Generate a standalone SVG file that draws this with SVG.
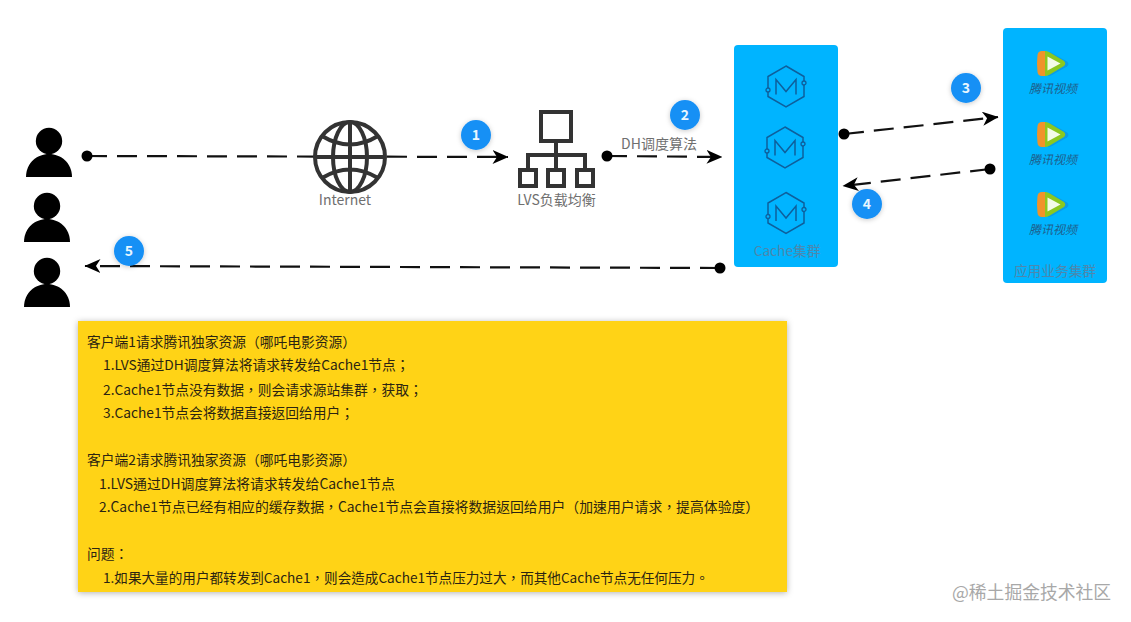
<svg xmlns="http://www.w3.org/2000/svg" width="1131" height="622" viewBox="0 0 1131 622">
<style>
text{font-family:"Noto Sans CJK SC","Noto Sans","Liberation Sans",sans-serif}
.flow{fill:none;stroke:#111;stroke-width:2.2;stroke-dasharray:20 10}
.dot{fill:#000}
.cluster{fill:#00b4ff}
.badge{fill:#1790f5;filter:url(#soft)}
.num{fill:#e8f6ff;font-size:14px;font-weight:700;text-anchor:middle}
.cap{fill:#6f6f6f;text-anchor:middle;font-size:14px}
.clabel{fill:#4d87ad;text-anchor:middle;font-size:13.700px}
.hex{fill:none;stroke:#0e5f9c;stroke-width:1.5}
.pin{fill:#00b4ff;stroke:#0e5f9c;stroke-width:1.300}
.tv{fill:#1f5f8c;font-size:12px;font-style:italic;text-anchor:middle}
.body{fill:#2b2412;font-size:13.750px;font-family:"Noto Sans CJK TC","Noto Sans CJK SC",sans-serif}
.ico{fill:none;stroke:#333;stroke-width:4}
</style>
<defs>
<filter id="soft" x="-30%" y="-30%" width="160%" height="160%"><feDropShadow dx="0" dy="1" stdDeviation="2.5" flood-color="#000" flood-opacity=".22"/></filter>
<filter id="card" x="-3%" y="-3%" width="106%" height="106%"><feDropShadow dx="0" dy="1" stdDeviation="3" flood-color="#000" flood-opacity=".3"/></filter>
<marker id="arrow" viewBox="0 0 16 14" refX="15.500" refY="7" markerWidth="16" markerHeight="14" markerUnits="userSpaceOnUse" orient="auto"><path d="M0 0L16 7L0 14L4.500 7z" fill="#000"/></marker>
<g id="person"><circle cx="0" cy="0" r="13.200"/><path d="M-23 36C-23 22 -12 13 0 13C12 13 23 22 23 36z"/></g>
<g id="mnode"><path class="hex" d="M0-20.500L18 -10V10L0 20.500L-18 10V-10z"/><circle class="pin" cx="-18" cy="3.500" r="2"/><circle class="pin" cx="18" cy="-3.500" r="2"/><path class="hex" d="M-10 8V-7L0 5L10 -7V8"/></g>
<g id="tvlogo"><path d="M11 1Q13 1 15 2L30 10.500Q33 13 30 15.500L15 24Q13 25 11 25z" fill="#0a9ce8"/><path d="M5 0Q1 0 .5 4Q-.5 12.500 .5 21Q1 25 5 25H9V0z" fill="#f0932b"/><path d="M8 0Q10 0 12 1L27 10Q29.500 12.500 27 15L12 24Q10 25 8 25z" fill="#8cc820"/><path d="M10.500 5.500L23.500 12.500L10.500 19.500z" fill="#f4fbe8"/></g>
</defs>
<rect width="1131" height="622" fill="#fff"/>
<g id="connectors">
<path class="flow" d="M87 156L508 157" marker-end="url(#arrow)"/>
<path class="flow" d="M607 156L722 157" marker-end="url(#arrow)"/>
<path class="flow" d="M844 134L998 117" marker-end="url(#arrow)"/>
<path class="flow" d="M990 169L843 186" marker-end="url(#arrow)"/>
<path class="flow" d="M720 268L85 266" marker-end="url(#arrow)"/>
<circle class="dot" cx="87" cy="156" r="5.500"/>
<circle class="dot" cx="607" cy="156" r="5.500"/>
<circle class="dot" cx="844" cy="134" r="5.500"/>
<circle class="dot" cx="990" cy="169" r="5.500"/>
<circle class="dot" cx="720" cy="268" r="5.500"/>
</g>
<g id="user1"><use href="#person" x="49" y="141"/></g>
<g id="user2"><use href="#person" x="47" y="206"/></g>
<g id="user3"><use href="#person" x="47" y="271"/></g>
<g id="internet">
<circle cx="350" cy="157" r="35" fill="#fff" stroke="#333" stroke-width="4"/>
<ellipse cx="350" cy="157" rx="17" ry="35" class="ico"/>
<path class="ico" d="M350 122V192M315 157H385M322 136Q350 153 378 136M322 178Q350 161 378 178"/>
<text class="cap" x="345" y="205">Internet</text>
</g>
<g id="lvs">
<rect class="ico" x="541" y="112" width="30" height="29" stroke-width="4.500"/>
<path class="ico" d="M556 141V155M528 168V155H585V168M556 155V168"/>
<rect class="ico" x="520" y="170" width="16" height="16" stroke-width="4.500"/>
<rect class="ico" x="548" y="170" width="16" height="16" stroke-width="4.500"/>
<rect class="ico" x="577" y="170" width="16" height="16" stroke-width="4.500"/>
<text class="cap" x="556.500" y="205">LVS负载均衡</text>
</g>
<text id="dh-label" class="cap" x="659" y="149">DH调度算法</text>
<g id="cache">
<rect class="cluster" x="734" y="45" width="104" height="222" rx="4"/>
<use href="#mnode" x="786" y="86.500"/>
<use href="#mnode" x="785" y="147.500"/>
<use href="#mnode" x="786" y="213"/>
<text class="clabel" x="787" y="256">Cache集群</text>
</g>
<g id="apps">
<rect class="cluster" x="1003" y="28" width="104" height="255" rx="4"/>
<use href="#tvlogo" x="1037" y="51"/>
<use href="#tvlogo" x="1037" y="122"/>
<use href="#tvlogo" x="1037" y="192"/>
<text class="tv" x="1053" y="93">腾讯视频</text>
<text class="tv" x="1053" y="164">腾讯视频</text>
<text class="tv" x="1053" y="234">腾讯视频</text>
<text class="clabel" x="1055" y="276">应用业务集群</text>
</g>
<g id="badges">
<g id="b1"><circle class="badge" cx="476" cy="135" r="15"/><text class="num" x="476" y="140">1</text></g>
<g id="b2"><circle class="badge" cx="685" cy="115" r="15"/><text class="num" x="685" y="120">2</text></g>
<g id="b3"><circle class="badge" cx="966" cy="88" r="15"/><text class="num" x="966" y="93">3</text></g>
<g id="b4"><circle class="badge" cx="867" cy="204" r="15"/><text class="num" x="867" y="209">4</text></g>
<g id="b5"><circle class="badge" cx="129" cy="251" r="15"/><text class="num" x="129" y="256">5</text></g>
</g>
<g id="notes">
<rect x="78" y="321" width="709" height="271" fill="#ffd317" filter="url(#card)"/>
<text class="body" x="87" y="347">客户端1请求腾讯独家资源（哪吒电影资源）</text>
<text class="body" x="103" y="370">1.LVS通过DH调度算法将请求转发给Cache1节点；</text>
<text class="body" x="103" y="395">2.Cache1节点没有数据，则会请求源站集群，获取；</text>
<text class="body" x="103" y="418">3.Cache1节点会将数据直接返回给用户；</text>
<text class="body" x="87" y="465">客户端2请求腾讯独家资源（哪吒电影资源）</text>
<text class="body" x="99" y="489" style="font-size:13.900px">1.LVS通过DH调度算法将请求转发给Cache1节点</text>
<text class="body" x="99" y="512" style="font-size:13.850px">2.Cache1节点已经有相应的缓存数据，Cache1节点会直接将数据返回给用户（加速用户请求，提高体验度）</text>
<text class="body" x="87" y="559">问题：</text>
<text class="body" x="103" y="583" style="font-size:13.600px">1.如果大量的用户都转发到Cache1，则会造成Cache1节点压力过大，而其他Cache节点无任何压力。</text>
</g>
<text id="watermark" x="952" y="599" font-size="17.800" fill="#a8a8a8">@稀土掘金技术社区</text>
</svg>
